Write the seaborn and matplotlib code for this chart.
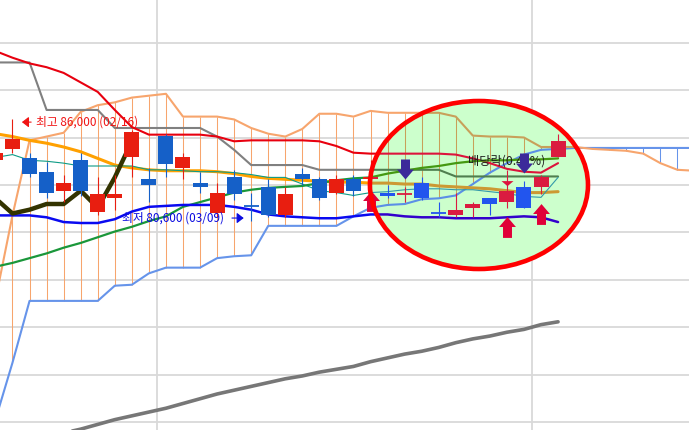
import numpy as np
import matplotlib
matplotlib.use("Agg")
import matplotlib.pyplot as plt
from matplotlib.patches import Ellipse
from matplotlib.path import Path
from matplotlib.transforms import offset_copy
import seaborn as sns

sns.set_theme(style="white")
plt.rcParams["font.family"] = ["Noto Sans CJK KR", "DejaVu Sans"]
plt.rcParams["axes.unicode_minus"] = False

# ---------------- data ----------------
dates = ["02/15", "02/16", "02/17", "02/18", "02/19", "02/22", "02/23", "02/24", "02/25", "02/26",
         "03/02", "03/03", "03/04", "03/05", "03/08", "03/09", "03/10", "03/11", "03/12", "03/15",
         "03/16", "03/17", "03/18", "03/19", "03/22", "03/23", "03/24", "03/25", "03/26", "03/29",
         "03/30", "03/31", "04/01", "04/02"]
opens = [83800, 84400, 83900, 83200, 82200, 83800, 81100, 81800, 84000, 82800,
         85100, 83400, 82600, 81000, 82900, 81400, 82400, 80900, 83100, 82800,
         82100, 82800, 82800, 82100, 82000, 82600, 81000, 80900, 81300, 81800,
         81600, 82400, 82400, 84000]
highs = [84400, 86000, 84200, 83700, 83000, 84200, 82900, 83000, 85400, 83400,
         85200, 84200, 83200, 82600, 83300, 82100, 82800, 82400, 83400, 82900,
         83000, 83000, 83800, 82500, 82400, 82900, 81600, 82100, 81600, 81800,
         83300, 82700, 83000, 85200]
lows = [83600, 84200, 82900, 81800, 81600, 81900, 80900, 81200, 82900, 81600,
        82900, 82800, 82100, 80800, 81700, 80600, 80800, 80800, 82500, 81700,
        82000, 81900, 82700, 81800, 81600, 81700, 80800, 80800, 80800, 80900,
        81300, 81300, 82000, 84000]
closes = [84200, 84900, 83100, 82100, 82600, 82200, 82000, 82000, 85300, 82500,
          83600, 84000, 82400, 82100, 82000, 81400, 80900, 82000, 82800, 81800,
          82800, 82200, 82900, 81900, 82000, 81800, 81000, 81200, 81500, 81500,
          82200, 81300, 82900, 84800]

line_red = [89550, 89200, 88900, 88700, 88400, 87900, 87400, 86450, 85550, 85150,
            85150, 85150, 85150, 85050, 84800, 84850, 84850, 84850, 84850, 84800,
            84550, 84200, 84150, 84150, 84150, 84150, 84150, 84100, 83900, 83650,
            83350, 83200, 83150, 83650]
line_gray = [88950, 88950, 88950, 86450, 86450, 86450, 86450, 85500, 85500, 85500,
             85500, 85500, 85500, 85050, 84350, 83550, 83550, 83550, 83550, 83300,
             83300, 83300, 83300, 83300, 83300, 83300, 83300, 82950, 82950, 82950,
             82950, 82950, 82950, 82950]
line_orange = [85200, 85050, 84850, 84700, 84500, 84250, 83900, 83550, 83400, 83300,
               83250, 83250, 83250, 83200, 83100, 82950, 82850, 82800, 82750, 82700,
               82650, 82650, 82600, 82600, 82550, 82550, 82450, 82400, 82350, 82300,
               82200, 82100, 82100, 82150]
line_teal = [83950, 84100, 83800, 83750, 83650, 83500, 83500, 83500, 83500, 83300,
             83300, 83250, 83200, 83200, 83150, 83050, 82900, 82900, 82550, 82200,
             82100, 81950, 82100, 82150, 82250, 82300, 82300, 82250, 82250, 82150,
             82050, 81900, 81850, 82900]
line_green = [78200, 78400, 78650, 78900, 79200, 79450, 79750, 80050, 80300, 80600,
              80850, 81350, 81600, 81850, 82100, 82250, 82350, 82400, 82450, 82600,
              82750, 82850, 82900, 83100, 83250, 83400, 83500, 83650, 83750, 83800,
              83800, 83850, 83850, 83900]
line_blue = [80900, 80900, 80900, 80800, 80550, 80500, 80500, 80700, 81100, 81350,
             81400, 81450, 81450, 81450, 81350, 81200, 80950, 80850, 80800, 80750,
             80750, 80850, 80950, 80950, 80850, 80800, 80800, 80750, 80750, 80750,
             80800, 80850, 80800, 80550]
line_long = [68600, 68800, 69000, 69250, 69450, 69650, 69900, 70150, 70350, 70550,
             70750, 71000, 71250, 71500, 71700, 71900, 72100, 72300, 72450, 72650,
             72800, 72950, 73200, 73400, 73600, 73750, 73950, 74200, 74400, 74550,
             74750, 74900, 75150, 75300]
# leading spans (extend 8 sessions past the last candle)
span1 = [76450, 80900, 84850, 85050, 85250, 86350, 86700, 86850, 87100, 87200,
         87300, 86100, 86100, 86100, 85950, 85500, 85200, 85050, 85450, 86250,
         86250, 86100, 86400, 86300, 86300, 86300, 86300, 86100, 85100, 85050,
         85050, 85000, 84500, 84500, 84500, 84400, 84350, 84300, 84150, 83650,
         83300, 83250]
span2 = [70150, 73150, 76400, 76400, 76400, 76400, 76400, 77200, 77250, 77850,
         78150, 78150, 78150, 78650, 78750, 78800, 80350, 80350, 80350, 80350,
         80350, 80850, 81300, 81450, 81500, 81750, 81800, 81950, 82550, 83150,
         83650, 84100, 84350, 84400, 84450, 84450, 84450, 84450, 84450, 84450,
         84450, 84450]
lag_shift = 25
grid_levels = [70000, 72500, 75000, 77500, 80000, 82500, 85000, 87500, 90000]
sell_dates = ["03/22", "03/31"]
buy_dates = ["03/18", "03/30", "04/01"]
exdiv_date = "03/30"
exdiv_label = "배당락(0.41%)"

# ---------------- figure ----------------
fig = plt.figure(figsize=(6.89, 4.30), dpi=100)
ax = fig.add_axes([0, 0, 1, 1])

x_c = np.arange(len(dates)) - 1
x_cloud = np.arange(len(span1)) - 1
o, h, l, c = map(np.array, (opens, highs, lows, closes))
prev = np.r_[c[0], c[:-1]]
up = (c > o) | ((c == o) & (c >= prev))

OUT = dict(up="#E81E10", dn="#1560C8", red="#E8000F", gray="#808080", salmon="#F7A56D",
           orange="#FFA000", teal="#0E9C86", green="#1A973A", blue="#0A0AF0", corn="#6694EA")
IN = dict(up="#DA1B40", dn="#2255EE", red="#DC143C", gray="#4F7F4F", salmon="#C8A05A",
          orange="#CC9933", teal="#3399AA", green="#449911", blue="#3300CC", corn="#5B8FE6")


def draw_layer(pal, z, clip=None):
    arts = []
    s1, s2 = np.array(span1), np.array(span2)
    vcols = [pal["salmon"] if a >= b else pal["corn"] for a, b in zip(s1, s2)]
    arts.append(ax.vlines(x_cloud, np.minimum(s1, s2), np.maximum(s1, s2),
                          colors=vcols, linewidth=0.75, zorder=z))
    series = [
        (x_cloud, span2, pal["corn"], 1.5),
        (x_cloud, span1, pal["salmon"], 1.5),
        (x_c, line_gray, pal["gray"], 1.5),
        (x_c, line_red, pal["red"], 1.5),
        (x_c, line_orange, pal["orange"], 2.2),
        (x_c, line_teal, pal["teal"], 0.8),
        (x_c, line_green, pal["green"], 1.6),
        (x_c, line_blue, pal["blue"], 1.8),
    ]
    for k, (xx, yy, col, lw) in enumerate(series):
        n = len(ax.lines)
        sns.lineplot(x=xx, y=np.array(yy), color=col, linewidth=lw, estimator=None,
                     ax=ax, zorder=z + 1 + 0.1 * k, legend=False)
        arts += ax.lines[n:]
    cols = np.where(up, pal["up"], pal["dn"])
    arts.append(ax.vlines(x_c, l, h, colors=list(cols), linewidth=0.8, zorder=z + 3))
    body_lo = np.minimum(o, c)
    body_h = np.abs(c - o)
    bars = ax.bar(x_c, body_h, bottom=body_lo, width=0.88, color=list(cols),
                  linewidth=0, zorder=z + 3.1)
    arts += list(bars.patches)
    doji = body_h == 0
    arts.append(ax.hlines(c[doji], x_c[doji] - 0.44, x_c[doji] + 0.44,
                          colors=list(cols[doji]), linewidth=1.3, zorder=z + 3.2))
    if clip is not None:
        for a in arts:
            a.set_clip_path(clip)


# outside layer
draw_layer(OUT, 1)
n = len(ax.lines)
sns.lineplot(x=x_c, y=np.array(line_long), color="#777777", linewidth=2.6,
             estimator=None, ax=ax, zorder=3, legend=False)
lag_x = x_c[lag_shift:] - lag_shift
sns.lineplot(x=lag_x, y=c[lag_shift:], color="#333300", linewidth=3.2,
             estimator=None, ax=ax, zorder=3.5, legend=False)

# highlight ellipse
E_C, E_W, E_H = (27.36, 82500), 12.79, 8842
ax.add_patch(Ellipse(E_C, E_W, E_H, facecolor="#CCFFCC", edgecolor="none", zorder=10))
clip = Ellipse(E_C, E_W, E_H, transform=ax.transData)
draw_layer(IN, 11, clip)

# ex-dividend label & marker
k = dates.index(exdiv_date)
ax.annotate(exdiv_label, xy=(x_c[k], h[k]), xytext=(0, 1.5), textcoords="offset points",
            ha="center", va="bottom", fontsize=8.8, color="#1E1E1E", zorder=15)
tri = Path([(-1, 0.4), (1, 0.4), (0, -0.45), (-1, 0.4)], closed=True)
ax.plot([x_c[k]], [max(o[k], c[k])], marker=tri, ms=8.6, color="#DC143C", ls="none",
        mec="none", zorder=16,
        transform=offset_copy(ax.transData, fig=fig, x=0, y=5.4, units="points"))

# signal arrows
up_arrow = Path([(0, 1), (0.81, 0.05), (0.43, 0.05), (0.43, -1), (-0.43, -1),
                 (-0.43, 0.05), (-0.81, 0.05), (0, 1)], closed=True)
dn_arrow = Path([(0, -1), (0.85, 0), (0.45, 0), (0.45, 1), (-0.45, 1),
                 (-0.45, 0), (-0.85, 0), (0, -1)], closed=True)
bi = [dates.index(d) for d in buy_dates]
si = [dates.index(d) for d in sell_dates]
ax.plot(x_c[bi], l[bi], marker=up_arrow, ms=15, color="#E00038", mec="none", ls="none",
        zorder=16, transform=offset_copy(ax.transData, fig=fig, x=0, y=-14, units="points"))
ax.plot(x_c[si], h[si], marker=dn_arrow, ms=14.4, color="#3C2A9A", mec="none", ls="none",
        zorder=16, transform=offset_copy(ax.transData, fig=fig, x=0, y=13, units="points"))

ax.add_patch(Ellipse(E_C, E_W, E_H, facecolor="none", edgecolor="#FF0000",
                     linewidth=3.3, zorder=20))

# high / low annotations
hi = int(np.argmax(h))
lo = int(np.argmin(l))
ax.annotate(f"최고 {h[hi]:,} ({dates[hi]})", xy=(x_c[hi], h[hi]),
            xycoords=offset_copy(ax.transData, fig=fig, x=6.8, y=-2.6, units="points"),
            xytext=(10, 0), textcoords="offset points", ha="left", va="center",
            fontsize=8.5, color="#F01414", zorder=21,
            arrowprops=dict(arrowstyle="-|>,head_length=0.45,head_width=0.35",
                            color="#F01414", lw=0.8, relpos=(0, 0.5),
                            shrinkA=1, shrinkB=0, mutation_scale=9))
ax.annotate(f"최저 {l[lo]:,} ({dates[lo]})", xy=(x_c[lo], l[lo]),
            xycoords=offset_copy(ax.transData, fig=fig, x=-5.4, y=2.2, units="points"),
            xytext=(-14.4, 0), textcoords="offset points", ha="right", va="center",
            fontsize=8.5, color="#0A0AE0", zorder=21,
            arrowprops=dict(arrowstyle="-|>,head_length=0.45,head_width=0.35",
                            color="#0A0AE0", lw=0.8, relpos=(1, 0.5),
                            shrinkA=3.6, shrinkB=0, mutation_scale=9))

# grid (month boundaries & price levels)
months = [d[:2] for d in dates]
bounds = [x_c[i] - 0.5 for i in range(1, len(dates)) if months[i] != months[i - 1]]
ax.set_xticks(bounds)
ax.set_yticks(grid_levels)
ax.grid(True, color="#D9D9D9", linewidth=1.3)
ax.set_axisbelow(True)
ax.tick_params(length=0, labelleft=False, labelbottom=False)
for s in ax.spines.values():
    s.set_visible(False)
ax.set_xlabel("")
ax.set_ylabel("")
ax.set_facecolor("white")
ax.set_xlim(-0.733, 39.68)
ax.set_ylim(69605, 92237)

fig.savefig("out.png", dpi=100)
